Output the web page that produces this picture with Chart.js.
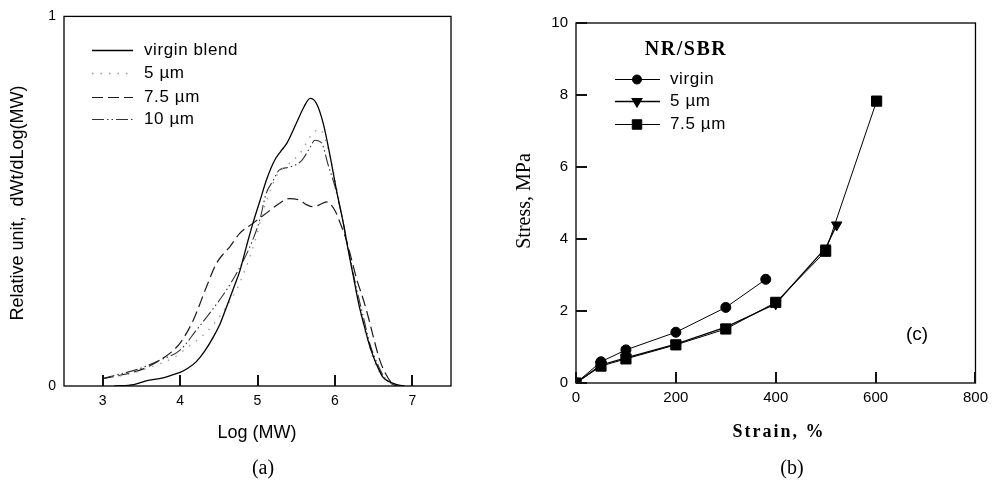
<!DOCTYPE html>
<html><head><meta charset="utf-8">
<script src="https://cdn.jsdelivr.net/npm/chart.js@4.4.1/dist/chart.umd.min.js"></script>
<style>
html,body{margin:0;padding:0;background:#fff;}
#wrap{position:relative;width:994px;height:481px;background:#fff;}
canvas{position:absolute;top:0;}
#ca{left:0;} #cb{left:497px;}
</style></head><body>
<div id="wrap"><canvas id="ca" width="497" height="481"></canvas><canvas id="cb" width="497" height="481"></canvas></div>
<script>
const SANS = '"Liberation Sans", Arial, sans-serif';
const SERIF = '"Liberation Serif", "Times New Roman", serif';

// ---------- Panel (a): molecular weight distribution ----------
const xTicksA = [3, 4, 5, 6, 7];
const yTicksA = [0, 1];
const namesA = ['virgin blend', '5 µm', '7.5 µm', '10 µm'];

const logMW_virgin = [3.15,3.4,3.56,3.78,3.9,4.0,4.1,4.21,4.32,4.43,4.52,4.6,4.7,4.77,4.86,4.94,5.03,5.12,5.22,5.3,5.38,5.5,5.6,5.68,5.76,5.85,5.94,6.02,6.1,6.17,6.24,6.31,6.37,6.44,6.5,6.56,6.62,6.7,6.8,6.9];
const dw_virgin    = [0,0.004,0.014,0.022,0.03,0.037,0.048,0.066,0.095,0.133,0.17,0.214,0.27,0.31,0.38,0.44,0.50,0.56,0.61,0.635,0.657,0.71,0.755,0.778,0.765,0.71,0.62,0.53,0.45,0.37,0.295,0.22,0.17,0.115,0.078,0.048,0.024,0.012,0.004,0];

const logMW_5 = [3.0,3.3,3.6,3.91,4.1,4.36,4.55,4.75,4.95,5.1,5.25,5.4,5.55,5.7,5.8,5.9,6.0,6.1,6.2,6.3,6.4,6.5,6.6,6.7,6.8];
const dw_5    = [0.02,0.03,0.05,0.076,0.105,0.15,0.2,0.27,0.38,0.49,0.57,0.6,0.63,0.68,0.695,0.65,0.56,0.45,0.34,0.23,0.14,0.07,0.03,0.01,0];

const logMW_75 = [3.0,3.2,3.48,3.7,3.87,4.0,4.17,4.34,4.47,4.57,4.64,4.77,4.94,5.11,5.28,5.41,5.54,5.64,5.71,5.8,5.89,6.0,6.07,6.14,6.2,6.28,6.37,6.44,6.5,6.58,6.65,6.72,6.8];
const dw_75    = [0.02,0.028,0.043,0.065,0.089,0.116,0.178,0.268,0.332,0.36,0.376,0.413,0.44,0.467,0.494,0.507,0.503,0.49,0.485,0.49,0.498,0.475,0.44,0.40,0.355,0.29,0.232,0.18,0.13,0.07,0.035,0.012,0];

const logMW_10 = [3.0,3.18,3.45,3.74,4.0,4.21,4.43,4.6,4.73,4.9,5.03,5.11,5.2,5.28,5.41,5.57,5.68,5.74,5.83,5.91,6.0,6.1,6.2,6.3,6.37,6.45,6.55,6.62,6.7,6.8];
const dw_10    = [0.02,0.03,0.045,0.07,0.097,0.151,0.21,0.26,0.305,0.376,0.45,0.52,0.555,0.584,0.592,0.61,0.646,0.665,0.657,0.60,0.54,0.45,0.34,0.245,0.185,0.115,0.06,0.03,0.01,0];

// ---------- Panel (b): stress-strain ----------
const xTicksB = [0, 200, 400, 600, 800];
const yTicksB = [0, 2, 4, 6, 8, 10];
const namesB = ['virgin', '5 µm', '7.5 µm'];
const strain_virgin = [0, 50, 100, 200, 300, 380];
const stress_virgin = [0, 0.59, 0.92, 1.41, 2.1, 2.88];
const strain_5 = [0, 50, 100, 200, 300, 400, 500, 522];
const stress_5 = [0, 0.5, 0.7, 1.08, 1.55, 2.2, 3.75, 4.39];
const strain_75 = [0, 50, 100, 200, 300, 400, 500, 602];
const stress_75 = [0, 0.47, 0.67, 1.06, 1.5, 2.24, 3.66, 7.83];

const pts = (xs, ys) => xs.map((x, i) => ({x: x, y: ys[i]}));

function setSpacing(ctx, s) { if ('letterSpacing' in ctx) ctx.letterSpacing = s; }

function drawText(ctx, txt, x, y, font, opts) {
  opts = opts || {};
  ctx.save();
  ctx.font = font;
  ctx.fillStyle = '#000';
  ctx.textAlign = opts.align || 'center';
  ctx.textBaseline = 'middle';
  setSpacing(ctx, opts.spacing || '0px');
  ctx.translate(x, y);
  if (opts.rot) ctx.rotate(opts.rot);
  ctx.fillText(txt, 0, 0);
  ctx.restore();
}

function frameTicks(chart, xVals, yVals, tickLen) {
  const ctx = chart.ctx;
  const a = chart.chartArea;
  const xs = chart.scales.x, ys = chart.scales.y;
  ctx.save();
  ctx.setLineDash([]);
  ctx.strokeStyle = '#000';
  ctx.lineWidth = 1.3;
  ctx.strokeRect(a.left, a.top, a.right - a.left, a.bottom - a.top);
  ctx.beginPath();
  for (let i = 0; i < xVals.length; i++) {
    const px = Math.round(xs.getPixelForValue(xVals[i]));
    ctx.moveTo(px, a.bottom);
    ctx.lineTo(px, a.bottom - tickLen);
  }
  for (let i = 0; i < yVals.length; i++) {
    const py = Math.round(ys.getPixelForValue(yVals[i]));
    ctx.moveTo(a.left, py);
    ctx.lineTo(a.left + tickLen, py);
  }
  ctx.lineWidth = 2;
  ctx.strokeStyle = '#111';
  ctx.stroke();
  ctx.restore();
}

const pluginA = {
  id: 'decorA',
  afterDraw(chart) {
    const ctx = chart.ctx;
    frameTicks(chart, xTicksA, [], 11);
    const rows = [50, 73, 97, 119];
    chart.data.datasets.forEach((ds, i) => {
      ctx.save();
      ctx.strokeStyle = ds.borderColor;
      ctx.lineWidth = ds.borderWidth;
      ctx.setLineDash(ds.borderDash || []);
      ctx.beginPath();
      ctx.moveTo(92, rows[i] + 0.5); ctx.lineTo(133, rows[i] + 0.5);
      ctx.stroke();
      ctx.restore();
      drawText(ctx, ds.label, 144, rows[i], '17px ' + SANS, {align: 'left', spacing: '0.6px'});
    });
    drawText(ctx, 'Log (MW)', 257, 433, '18px ' + SANS);
    drawText(ctx, '(a)', 263, 469, '20px ' + SERIF);
    drawText(ctx, 'Relative unit,  dWt/dLog(MW)', 18, 203, '18px ' + SANS, {rot: -Math.PI / 2});
  }
};

const pluginB = {
  id: 'decorB',
  afterDraw(chart) {
    const ctx = chart.ctx;
    frameTicks(chart, xTicksB, yTicksB, 11);
    drawText(ctx, 'NR/SBR', 189, 50, 'bold 20px ' + SERIF, {spacing: '1.5px'});
    const rows = [79, 101, 124];
    namesB.forEach((name, i) => {
      const ds = chart.data.datasets.find(d => d.label === name);
      ctx.save();
      ctx.strokeStyle = '#000';
      ctx.lineWidth = ds.borderWidth;
      ctx.setLineDash([]);
      ctx.beginPath();
      ctx.moveTo(118, rows[i] + 0.5); ctx.lineTo(163, rows[i] + 0.5);
      ctx.stroke();
      ctx.fillStyle = '#000';
      Chart.helpers.drawPoint(ctx, {pointStyle: ds.pointStyle, radius: ds.pointRadius - 0.5, rotation: ds.rotation || 0, borderWidth: 1}, 140, rows[i] + 0.5);
      ctx.restore();
      drawText(ctx, ds.label, 173, rows[i], '17px ' + SANS, {align: 'left', spacing: '0.6px'});
    });
    drawText(ctx, '(c)', 420, 335, '19px ' + SANS);
    drawText(ctx, 'Strain, %', 282, 432, 'bold 18px ' + SERIF, {spacing: '2px'});
    drawText(ctx, '(b)', 295, 469, '20px ' + SERIF);
    drawText(ctx, 'Stress, MPa', 28, 201, '20px ' + SERIF, {rot: -Math.PI / 2});
  }
};

function lineDs(label, xs, ys, color, dash, width) {
  return {
    label: label, data: pts(xs, ys), borderColor: color, backgroundColor: color,
    borderWidth: width, borderDash: dash, pointRadius: 0, fill: false,
    cubicInterpolationMode: 'monotone', tension: 0.4
  };
}

new Chart(document.getElementById('ca'), {
  type: 'line',
  data: {
    datasets: [
      lineDs(namesA[0], logMW_virgin, dw_virgin, '#000', [], 1.3),
      lineDs(namesA[1], logMW_5, dw_5, '#9a9a9a', [1.5, 7], 1.3),
      lineDs(namesA[2], logMW_75, dw_75, '#1a1a1a', [11, 5], 1.2),
      lineDs(namesA[3], logMW_10, dw_10, '#333', [12, 3, 1.5, 3, 1.5, 3], 1.1)
    ]
  },
  options: {
    responsive: false, animation: false, events: [],
    layout: {padding: {left: 0, right: 46, top: 16, bottom: 0}},
    plugins: {legend: {display: false}, tooltip: {enabled: false}},
    scales: {
      x: {
        type: 'linear', min: 2.5, max: 7.5,
        grid: {display: false, drawTicks: false}, border: {display: false},
        afterBuildTicks: s => { s.ticks = xTicksA.map(v => ({value: v})); },
        afterFit: s => { s.height = 95; },
        ticks: {color: '#000', padding: 7, font: {family: SANS, size: 14}, maxRotation: 0}
      },
      y: {
        type: 'linear', min: 0, max: 1,
        grid: {display: false, drawTicks: false}, border: {display: false},
        afterBuildTicks: s => { s.ticks = yTicksA.map(v => ({value: v})); },
        afterFit: s => { s.width = 64; },
        ticks: {color: '#000', padding: 8, font: {family: SANS, size: 14}}
      }
    }
  },
  plugins: [pluginA]
});

function markDs(label, xs, ys, style, radius, rot, width, ord) {
  return {
    label: label, data: pts(xs, ys), borderColor: '#000', backgroundColor: '#000',
    pointBackgroundColor: '#000', pointBorderColor: '#000', borderWidth: width,
    pointStyle: style, pointRadius: radius, rotation: rot, pointRotation: rot,
    pointBorderWidth: 1, tension: 0, fill: false, order: ord
  };
}

new Chart(document.getElementById('cb'), {
  type: 'line',
  data: {
    datasets: [
      markDs(namesB[0], strain_virgin, stress_virgin, 'circle', 5, 0, 1, 1),
      markDs(namesB[1], strain_5, stress_5, 'triangle', 6, 180, 1.3, 2),
      markDs(namesB[2], strain_75, stress_75, 'rect', 7.2, 0, 1, 0)
    ]
  },
  options: {
    responsive: false, animation: false, events: [],
    layout: {padding: {left: 0, right: 14, top: 23, bottom: 0}},
    plugins: {legend: {display: false}, tooltip: {enabled: false}},
    scales: {
      x: {
        type: 'linear', min: 0, max: 800,
        grid: {display: false, drawTicks: false}, border: {display: false},
        afterBuildTicks: s => { s.ticks = xTicksB.map(v => ({value: v})); },
        afterFit: s => { s.height = 98; },
        ticks: {color: '#000', padding: 6, font: {family: SANS, size: 15}, maxRotation: 0}
      },
      y: {
        type: 'linear', min: 0, max: 10,
        grid: {display: false, drawTicks: false}, border: {display: false},
        afterBuildTicks: s => { s.ticks = yTicksB.map(v => ({value: v})); },
        afterFit: s => { s.width = 79; },
        ticks: {color: '#000', padding: 8, font: {family: SANS, size: 15}}
      }
    }
  },
  plugins: [pluginB]
});
</script>
</body></html>
